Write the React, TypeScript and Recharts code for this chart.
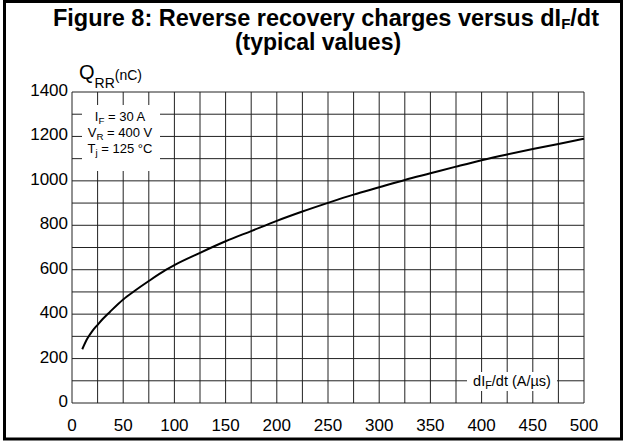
import { CartesianGrid, Line, LineChart, XAxis, YAxis } from 'recharts';

// dIF/dt (A/µs) and QRR (nC)
const diF = [10, 15, 20, 25, 30, 37, 50, 61, 75, 92, 100, 125, 150, 175, 200, 225, 250, 275, 300, 325, 350, 375, 400, 425, 450, 475, 500];
const qrr = [242, 290, 325, 352, 378, 410, 466, 504, 549, 600, 621, 676, 728, 774, 820, 862, 901, 938, 971, 1004, 1034, 1064, 1093, 1119, 1143, 1166, 1190];

// grid every 25 A/µs and 100 nC, labels every 50 / 200
const xTicks = [0, 25, 50, 75, 100, 125, 150, 175, 200, 225, 250, 275, 300, 325, 350, 375, 400, 425, 450, 475, 500];
const yTicks = [0, 100, 200, 300, 400, 500, 600, 700, 800, 900, 1000, 1100, 1200, 1300, 1400];
const xLabels = [0, 50, 100, 150, 200, 250, 300, 350, 400, 450, 500];
const yLabels = [0, 200, 400, 600, 800, 1000, 1200, 1400];

const conditions = ['I|F| = 30 A', 'V|R| = 400 V', 'T|j| = 125 °C'];

const FONT = '"Liberation Sans", Arial, sans-serif';

const data = diF.map((x, i) => ({ x, q: qrr[i] }));

function XTick({ x, y, payload }: any) {
  if (!xLabels.includes(payload.value)) return null;
  return (
    <text x={x} y={y + 28} textAnchor="middle" fontSize={17} fontFamily={FONT} fill="#000">
      {payload.value}
    </text>
  );
}

function YTick({ x, y, payload }: any) {
  if (!yLabels.includes(payload.value)) return null;
  return (
    <text x={x} y={y + 4} textAnchor="end" fontSize={17} fontFamily={FONT} fill="#000">
      {payload.value}
    </text>
  );
}

// "I|F| = 30 A" -> main text with a subscript part
function SubText({ s, x, y, size }: { s: string; x: number; y: number; size: number }) {
  const [a, sub, b] = s.split('|');
  return (
    <text x={x} y={y} textAnchor="middle" fontSize={size} fontFamily={FONT} fill="#000">
      {a}
      <tspan fontSize={size * 0.75} dy={3}>{sub}</tspan>
      <tspan dy={-3}>{b}</tspan>
    </text>
  );
}

export default function App() {
  return (
    <div style={{ position: 'absolute', left: 0, top: 0, width: 626, height: 444, background: '#fff' }}>
      <LineChart width={626} height={444} data={data} margin={{ top: 92, right: 42, bottom: 11, left: 0 }}>
        <CartesianGrid stroke="#222" strokeWidth={1} />
        <XAxis
          dataKey="x"
          type="number"
          domain={[0, 500]}
          ticks={xTicks}
          interval={0}
          axisLine={false}
          tickLine={false}
          tickSize={0}
          tickMargin={0}
          height={30}
          tick={<XTick />}
        />
        <YAxis
          type="number"
          domain={[0, 1400]}
          ticks={yTicks}
          interval={0}
          axisLine={false}
          tickLine={false}
          tickSize={0}
          tickMargin={4}
          width={72}
          tick={<YTick />}
        />
        <Line type="monotone" dataKey="q" stroke="#000" strokeWidth={2} dot={false} isAnimationActive={false} />
      </LineChart>
      <svg width={626} height={444} style={{ position: 'absolute', left: 0, top: 0, pointerEvents: 'none' }}>
        <rect x={4.5} y={1.5} width={617} height={437.5} fill="none" stroke="#000" strokeWidth={3} />
        <text x={326} y={26} textAnchor="middle" fontSize={23.5} fontWeight="bold" fontFamily={FONT}>
          Figure 8: Reverse recovery charges versus dI
          <tspan fontSize={15} dy={3}>F</tspan>
          <tspan dy={-3}>/dt</tspan>
        </text>
        <text x={318} y={50} textAnchor="middle" fontSize={23} fontWeight="bold" fontFamily={FONT}>
          (typical values)
        </text>
        <text x={79} y={79} fontSize={20} fontFamily={FONT}>
          Q
          <tspan fontSize={14} dy={9}>RR</tspan>
          <tspan fontSize={14} dy={-8}>(nC)</tspan>
        </text>
        <rect x={82} y={105} width={78} height={66} fill="#fff" />
        {conditions.map((c, i) => (
          <SubText key={c} s={c} x={120} y={121 + i * 16} size={13} />
        ))}
        <rect x={467} y={372} width={90} height={19} fill="#fff" />
        <SubText s="dI|F|/dt (A/µs)" x={512} y={386} size={14.5} />
      </svg>
    </div>
  );
}
